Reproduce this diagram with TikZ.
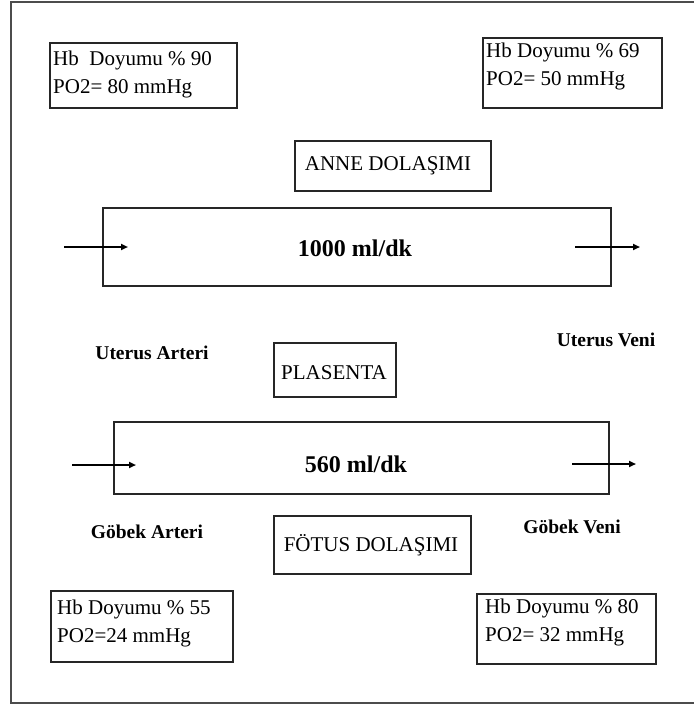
\documentclass[tikz,border=0pt]{standalone}
\usepackage{fontspec}
\setmainfont{Liberation Serif}
\usetikzlibrary{arrows.meta}
\tikzset{
  framebox/.style={draw=black!85, line width=1.4pt, inner sep=0pt},
  valtxt/.style={anchor=west, align=left, inner sep=0pt, font=\fontsize{21}{28}\selectfont},
  titletxt/.style={inner sep=0pt, font=\fontsize{21}{25}\selectfont},
  flowtxt/.style={font=\fontsize{24}{28}\selectfont\bfseries, inner sep=0pt},
  vessel/.style={font=\fontsize{19.5}{23}\selectfont\bfseries, inner sep=0pt},
  flowarrow/.style={line width=1.8pt, -{Triangle[length=7pt,width=6pt]}},
}
\begin{document}
\begin{tikzpicture}[x=1pt,y=-1pt]
\useasboundingbox (0,0) rectangle (693,709);
\fill[white] (0,0) rectangle (693,709);
% outer frame
\draw[line width=1.6pt, black!70] (700,2) -- (11,2) -- (11,703) -- (700,703);

% value boxes (frames)
\node (tl) [framebox, minimum width=187pt, minimum height=65pt] at (143.5,75.5) {};
\node (tr) [framebox, minimum width=179pt, minimum height=70pt] at (572.5,73) {};
\node (bl) [framebox, minimum width=182pt, minimum height=71pt] at (142,626.5) {};
\node (br) [framebox, minimum width=179pt, minimum height=70pt] at (566.5,629) {};
% value texts
\node (tlt) [valtxt] at (53,74) {Hb\ \ Doyumu \% 90\\PO2= 80 mmHg};
\node (trt) [valtxt] at (486,66) {Hb Doyumu \% 69\\PO2= 50 mmHg};
\node (blt) [valtxt] at (57,623) {Hb Doyumu \% 55\\PO2=24 mmHg};
\node (brt) [valtxt] at (485,622) {Hb Doyumu \% 80\\PO2= 32 mmHg};

% title boxes
\node (anneb) [framebox, minimum width=196pt, minimum height=50pt] at (393,166) {};
\node (annet) [titletxt] at (388,166) {ANNE DOLAŞIMI};
\node (plab) [framebox, minimum width=122pt, minimum height=54pt] at (335,370) {};
\node (plat) [titletxt] at (334,373) {PLASENTA};
\node (fotb) [framebox, minimum width=197pt, minimum height=58pt] at (372.5,545) {};
\node (fott) [titletxt] at (371,545) {FÖTUS DOLAŞIMI};

% flow rectangles
\node (upper) [framebox, minimum width=508pt, minimum height=78pt] at (357,247) {};
\node (uppert) [flowtxt] at (355,248) {1000 ml/dk};
\node (lower) [framebox, minimum width=495pt, minimum height=72pt] at (361.5,458) {};
\node (lowert) [flowtxt] at (356,464) {560 ml/dk};

% vessel labels
\node (ua) [vessel] at (152,353) {Uterus Arteri};
\node (uv) [vessel] at (606,340) {Uterus Veni};
\node (ga) [vessel] at (147,532) {Göbek Arteri};
\node (gv) [vessel] at (572,527) {Göbek Veni};

% arrows
\coordinate (a1s) at (64,247);
\coordinate (a1e) at (128,247);
\coordinate (a2s) at (575,247);
\coordinate (a2e) at (640,247);
\coordinate (a3s) at (72,465);
\coordinate (a3e) at (136,465);
\coordinate (a4s) at (572,464);
\coordinate (a4e) at (636,464);
\draw[flowarrow] (a1s) -- (a1e);
\draw[flowarrow] (a2s) -- (a2e);
\draw[flowarrow] (a3s) -- (a3e);
\draw[flowarrow] (a4s) -- (a4e);
\end{tikzpicture}
\end{document}
